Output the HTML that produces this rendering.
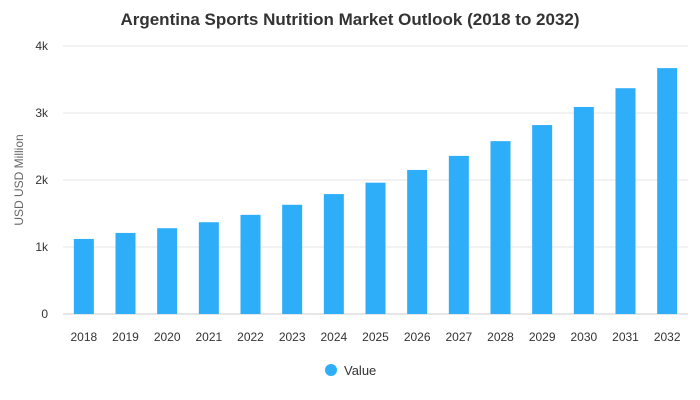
<!DOCTYPE html>
<html><head><meta charset="utf-8"><style>
body{margin:0;background:#fff;font-family:"Liberation Sans",Arial,sans-serif}
</style></head><body>
<svg id="chart" width="700" height="400" xmlns="http://www.w3.org/2000/svg" style="display:block">
<text x="350" y="25" text-anchor="middle" font-size="17" font-weight="bold" fill="#333">Argentina Sports Nutrition Market Outlook (2018 to 2032)</text>
<text transform="translate(23,180) rotate(-90)" text-anchor="middle" font-size="12" fill="#666">USD USD Million</text>
<g id="grid"></g><g id="bars"></g><g id="xlabels"></g>
<g>
<circle cx="331" cy="370" r="6" fill="#2eaef9"/>
<text x="344" y="375" font-size="13" fill="#333">Value</text>
</g>
</svg>
<script>
const categories=["2018","2019","2020","2021","2022","2023","2024","2025","2026","2027","2028","2029","2030","2031","2032"];
const values=[1.12,1.21,1.28,1.37,1.48,1.63,1.79,1.96,2.15,2.36,2.58,2.82,3.09,3.37,3.67];
const yTicks=[0,1,2,3,4];
const yTickLabels=["0","1k","2k","3k","4k"];
const ns="http://www.w3.org/2000/svg";
const L=63,R=688,T=46,B=314,yMax=4;
const y=v=>B-(v/yMax)*(B-T);
const band=(R-L)/categories.length;
const x=i=>L+band*(i+0.5);
const grid=document.getElementById('grid');
yTicks.forEach((t,i)=>{
 const ln=document.createElementNS(ns,'line');
 
 
 ln.setAttribute('x1',L);ln.setAttribute('x2',R);ln.setAttribute('y1',y(t));ln.setAttribute('y2',y(t));
 ln.setAttribute('stroke',t===0?'#ccc':'#e6e6e6');ln.setAttribute('stroke-width','1');
 grid.appendChild(ln);
 const tx=document.createElementNS(ns,'text');
 
 
 tx.setAttribute('x',L-15);tx.setAttribute('y',y(t)+4);tx.setAttribute('text-anchor','end');
 tx.setAttribute('font-size','12');tx.setAttribute('fill','#333');tx.textContent=yTickLabels[i];
 grid.appendChild(tx);
});
const bars=document.getElementById('bars'),xl=document.getElementById('xlabels');
values.forEach((v,i)=>{
 const r=document.createElementNS(ns,'rect');
 
 
 r.setAttribute('x',x(i)-10);r.setAttribute('width',20);r.setAttribute('y',y(v));r.setAttribute('height',B-y(v));
 r.setAttribute('fill','#2eaef9');
 bars.appendChild(r);
 const tx=document.createElementNS(ns,'text');
 
 
 tx.setAttribute('x',x(i));tx.setAttribute('y',341);tx.setAttribute('text-anchor','middle');
 tx.setAttribute('font-size','12');tx.setAttribute('fill','#333');tx.textContent=categories[i];
 xl.appendChild(tx);
});
</script>
</body></html>
